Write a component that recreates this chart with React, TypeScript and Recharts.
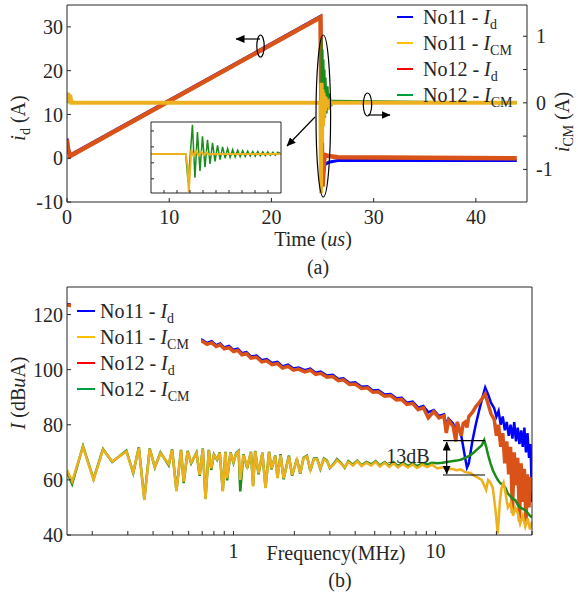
import { LineChart, Line, XAxis, YAxis, Legend } from 'recharts'

const FONT = "'Liberation Serif', 'DejaVu Serif', 'Times New Roman', serif"
const INK = '#262626'

// ---- (a) time domain, left axis: i_d (A) ----
const idTime = [0, 0.1, 0.3, 24.8, 24.9, 25.0, 25.2, 25.6, 26.5, 44]
const idNo11 = [4.5, 2.4, 0.7, 32.4, 10, -4.5, -1.5, -0.9, -0.5, -0.5]
const idNo12 = [4.2, 2.2, 0.5, 32.2, 8, -6.5, 0.8, 0.5, 0.2, 0.0]

// right axis: i_CM (A)
const cmTime = [0, 0.1, 0.2, 0.3, 0.45, 24.8, 24.85, 24.9, 24.95, 25.0, 25.05, 25.1, 25.15, 25.2, 25.25, 25.3, 25.4, 25.5, 25.6, 25.7, 25.85, 26.0, 44]
const cmNo11 = [0, 0.15, 0.05, 0.12, 0, 0, -1.36, 0.3, -0.6, 0.2, -0.35, 0.15, -0.2, 0.1, -0.12, 0.08, -0.05, 0.04, -0.02, 0.02, -0.01, 0, 0]
const cmNo12 = [0, 0.1, 0.03, 0.08, 0, 0, -0.9, 0.97, -0.45, 0.8, -0.35, 0.65, -0.28, 0.5, -0.22, 0.38, -0.16, 0.25, -0.1, 0.14, -0.05, 0.03, 0]

// inset (zoom of the turn-off ringing)
const insetTimeG = [24.5, 24.9, 24.929, 24.978, 25.007, 25.036, 25.065, 25.094, 25.123, 25.152, 25.181, 25.21, 25.239, 25.268, 25.297, 25.326, 25.355, 25.384, 25.413, 25.442, 25.471, 25.5, 25.529, 25.558, 25.587, 25.616, 25.645, 25.674, 25.703, 25.732, 25.761, 25.79, 25.819, 25.848, 25.877, 25.906, 25.935, 25.964, 26.0]
const insetNo12 = [0, 0, -0.81, 0.82, -0.67, 0.62, -0.48, 0.5, -0.37, 0.4, -0.28, 0.31, -0.21, 0.24, -0.16, 0.2, -0.12, 0.15, -0.1, 0.12, -0.08, 0.1, -0.08, 0.09, -0.07, 0.08, -0.06, 0.07, -0.06, 0.07, -0.05, 0.06, -0.05, 0.06, -0.04, 0.05, -0.04, 0.05, 0]
const insetTimeY = [24.5, 24.9, 24.92, 24.936, 24.95, 24.965, 24.99, 25.02, 25.05, 25.08, 25.11, 25.14, 25.17, 25.2, 26.0]
const insetNo11 = [0, 0, -0.3, -1.07, -0.5, 0.12, -0.06, 0.08, -0.04, 0.06, -0.03, 0.04, -0.02, 0, 0]

// ---- (b) spectra, I (dBuA) vs MHz ----
const freqId = [0.15, 0.2, 0.3, 0.45, 0.6, 0.7, 0.74, 0.78, 0.82, 0.86,
  0.9, 0.95, 1.0, 1.05, 1.1, 1.16, 1.22, 1.3, 1.38, 1.46,
  1.55, 1.65, 1.75, 1.86, 1.98, 2.1, 2.25, 2.4, 2.55, 2.7,
  2.9, 3.1, 3.3, 3.5, 3.75, 4.0, 4.3, 4.6, 4.9, 5.2,
  5.6, 6.0, 6.4, 6.8, 7.2, 7.7, 8.2, 8.7, 9.2, 9.8,
  10.4, 11.0, 11.3, 11.6, 12.2, 12.6, 12.8, 13.4, 13.7, 14.0,
  14.3, 14.6, 15.2, 15.8, 16.4, 17.0, 17.6, 18.2, 18.8, 19.5,
  20.0, 20.5, 21.0, 21.5, 22.0, 22.5, 23.0, 23.5, 24.0, 24.5,
  25.0, 25.5, 26.0, 26.5, 27.0, 27.5, 28.0, 28.5, 29.0, 29.5,
  30.0]
const specIdNo11 = [123.8, 122.3, 119.3, 115.3, 112.3, 110.8, 109.7, 110.3, 108.9, 109.5,
  108.1, 108.6, 107.2, 107.6, 106, 106.4, 104.8, 105.1, 103.4, 103.8,
  102.4, 102.8, 101.2, 101.8, 100.4, 100.8, 99.8, 100.4, 98.9, 99.3,
  97.9, 98.1, 96.6, 96.9, 95.2, 95.4, 93.8, 94, 92.4, 92.6,
  91, 91.2, 89.6, 89.8, 88, 88.4, 86.2, 86.8, 84.5, 85.4,
  83.2, 83.8, 80, 82.2, 80.5, 78, 81, 76, 72, 68,
  64.5, 66, 74, 80, 85, 89.5, 93.5, 91, 88, 86,
  83, 85, 80, 83, 78, 81, 76, 80, 75, 81,
  74, 79, 73, 78, 72, 79, 70, 77, 68, 73,
  52]
const specIdNo12 = [123.5, 122, 119, 115, 112, 110.3, 109.2, 109.8, 108.4, 109,
  107.6, 108, 106.6, 107, 105.4, 105.8, 104.2, 104.5, 102.8, 103.2,
  101.8, 102.2, 100.6, 101.2, 99.8, 100.2, 99.2, 99.8, 98.3, 98.7,
  97.3, 97.5, 96, 96.3, 94.6, 94.8, 93.2, 93.4, 91.8, 92,
  90.4, 90.6, 89, 89.2, 87.4, 87.8, 85.5, 86.2, 82.5, 84.8,
  82.5, 83.2, 77, 81.6, 79.5, 74, 81, 76, 80.5, 81,
  79, 83, 84.5, 86.5, 88, 89.5, 91.2, 87.5, 84, 82,
  76, 80, 72, 77, 66, 74, 62, 72, 48, 70,
  58, 68, 45, 66, 52, 64, 44, 62, 50, 61,
  56]

const freqCm = [0.15, 0.159, 0.18, 0.203, 0.226, 0.251, 0.295, 0.319, 0.34, 0.362,
  0.385, 0.408, 0.435, 0.478, 0.497, 0.522, 0.55, 0.567, 0.593, 0.617,
  0.656, 0.68, 0.705, 0.727, 0.755, 0.776, 0.8, 0.83, 0.855, 0.885,
  0.912, 0.93, 0.966, 1.0, 1.03, 1.06, 1.08, 1.12, 1.17, 1.22,
  1.25, 1.28, 1.33, 1.39, 1.44, 1.5, 1.54, 1.61, 1.65, 1.71,
  1.77, 1.82, 1.88, 1.95, 2.06, 2.14, 2.22, 2.31, 2.4, 2.5,
  2.59, 2.69, 2.8, 2.9, 3.0, 3.13, 3.25, 3.39, 3.55, 3.7,
  3.9, 4.1, 4.3, 4.55, 4.8, 5.05, 5.3, 5.6, 5.9, 6.2,
  6.5, 6.9, 7.3, 7.7, 8.1, 8.6, 9.1, 9.6, 10.2, 10.8,
  11.4, 12.0, 12.7, 13.3, 14.0, 14.9, 15.5, 16.0, 16.9, 17.4,
  17.8, 18.2, 18.7, 19.2, 19.8, 20.3, 20.8, 21.2, 21.7, 22.2,
  22.8, 23.5, 24.2, 24.8, 25.5, 26.2, 27.0, 27.8, 28.6, 29.3,
  30.0]
const specCmNo11 = [63.6, 59.5, 72, 60, 71, 66.7, 70.3, 62.7, 71.6, 52.7,
  71.2, 64.7, 69.7, 65.7, 70.9, 55.8, 70.7, 59.4, 70.3, 66.3,
  69.7, 61.8, 71.2, 53, 70.7, 64.2, 69, 67.5, 69.8, 55.8,
  70, 60.6, 69.8, 66.5, 69.5, 70.3, 60, 69, 64.8, 70,
  57.6, 70.3, 62.4, 69.7, 57, 70, 64.2, 68.5, 60.6, 69,
  60.6, 64, 68.5, 61.8, 67.3, 62.4, 67.8, 68.5, 63.6, 67.5,
  67.5, 64.2, 67.5, 66.7, 64.5, 65.5, 67.2, 66, 64.6, 66.5,
  65.2, 66.8, 65, 66.2, 65.2, 66.5, 64.8, 66.2, 64.7, 66,
  64.5, 65.8, 64.5, 65.6, 64.3, 65.5, 64.6, 65.5, 64.2, 64.6,
  63.8, 64, 63.5, 63.8, 62.8, 62.5, 61.5, 61, 60, 58,
  56.4, 60, 59, 57, 49, 40.5, 52, 57, 59, 55,
  50, 51.6, 47, 50, 48, 44, 47, 43, 46, 42,
  45]
const specCmNo12 = [63, 58.5, 72.3, 60.3, 71.2, 66.5, 70.6, 62.5, 71.8, 53,
  71.4, 64.5, 69.9, 65.3, 71.1, 56.2, 70.9, 58.8, 70.5, 66,
  69.9, 61.5, 71.4, 53.3, 70.9, 63.6, 69.2, 67.3, 70, 56,
  70.2, 59.8, 70, 66.2, 69.7, 70.5, 55.8, 69.3, 64.3, 70.2,
  57.8, 70.5, 62, 69.9, 57.3, 70.2, 63.8, 68.8, 60.8, 69.3,
  60.2, 64.3, 68.8, 61.5, 67.6, 62.2, 68, 68.8, 63.3, 67.8,
  67.8, 64, 67.8, 67, 64.3, 65.8, 67.5, 66.3, 64.4, 66.8,
  65.5, 67, 65.3, 66.5, 65.6, 66.8, 65.2, 66.5, 65.1, 66.4,
  65, 66.2, 65, 66, 65, 66, 65.6, 66.2, 66, 66.2,
  66.5, 66.8, 67, 67.3, 68, 69, 70, 71, 72.5, 74.5,
  72, 69, 66, 63.5, 61.5, 60, 59, 58.5, 58, 57,
  55, 54, 53, 52.7, 51, 50, 49.5, 49, 48, 47,
  46.5]

const timeTicks = [0, 10, 20, 30, 40]
const idTicks = [-10, 0, 10, 20, 30]
const cmTicks = [-1, -0.5, 0, 0.5, 1]
const freqTicks = [0.2, 0.3, 0.4, 0.5, 0.6, 0.7, 0.8, 0.9, 1, 2, 3, 4, 5, 6, 7, 8, 9, 10, 20, 30]
const levelTicks = [40, 60, 80, 100, 120]
const insetTimeTicks = [24.65, 24.8, 24.95, 25.1, 25.25, 25.4, 25.55, 25.7, 25.85]
const insetLevelTicks = [-0.7, -0.25, 0.2, 0.65]

const legendNames = ['No11 - ', 'No11 - ', 'No12 - ', 'No12 - ']
const legendSubs = ['d', 'CM', 'd', 'CM']
const legendColors = ['#0000ff', '#ffc000', '#ff0000', '#00a040']

const C_BLUE = '#0000ff'
const C_RED = '#d95319'
const C_YEL = '#edb120'
const C_GRN = '#1a8c1a'

const zip = (xs: number[], ys: number[]) => xs.map((x, i) => ({ x, y: ys[i] }))
const tickStyle = { fontSize: 20, fill: INK, fontFamily: FONT }
const blank = () => ''

function LegendBox({ lineW, gap, pad, bg }: { lineW: number; gap: number; pad: string; bg: string }) {
  return (
    <div style={{ fontFamily: FONT, fontSize: 20, color: INK, background: bg, padding: pad }}>
      {legendNames.map((n, i) => (
        <div key={i} style={{ display: 'flex', alignItems: 'center', height: 26, whiteSpace: 'nowrap' }}>
          <span style={{ display: 'inline-block', width: lineW, height: 2.5, background: legendColors[i], marginRight: gap }} />
          <span>
            {n}
            <i>I</i>
            <span style={{ fontSize: 14, position: 'relative', top: 5 }}>{legendSubs[i]}</span>
          </span>
        </div>
      ))}
    </div>
  )
}

function TimeChart() {
  return (
    <LineChart width={578} height={232} margin={{ top: 4, right: 0, bottom: 0, left: 0 }}>
      <XAxis dataKey="x" type="number" domain={[0, 45]} ticks={timeTicks} interval={0} allowDataOverflow
        height={30} tickSize={-4} tickMargin={12} stroke={INK} tick={tickStyle} />
      <XAxis xAxisId="top" orientation="top" type="number" domain={[0, 45]} ticks={timeTicks} interval={0}
        height={1} tickSize={-4} tickFormatter={blank} stroke={INK} />
      <YAxis yAxisId="left" type="number" domain={[-10, 35]} ticks={idTicks} interval={0} allowDataOverflow
        width={67} tickSize={-4} tickMargin={8} stroke={INK} tick={tickStyle} />
      <YAxis yAxisId="right" orientation="right" type="number" domain={[-1.49, 1.47]} ticks={cmTicks} interval={0}
        allowDataOverflow width={51} tickSize={-4} tickMargin={13} stroke={INK} tick={tickStyle}
        tickFormatter={(v: number) => (Number.isInteger(v) ? String(v) : '')} />
      <Line data={zip(idTime, idNo11)} dataKey="y" yAxisId="left" stroke={C_BLUE} strokeWidth={3} dot={false} isAnimationActive={false} />
      <Line data={zip(idTime, idNo12)} dataKey="y" yAxisId="left" stroke={C_RED} strokeWidth={4.5} dot={false} isAnimationActive={false} />
      <Line data={zip(cmTime, cmNo12)} dataKey="y" yAxisId="right" stroke={C_GRN} strokeWidth={2} dot={false} isAnimationActive={false} />
      <Line data={zip(cmTime, cmNo11)} dataKey="y" yAxisId="right" stroke={C_YEL} strokeWidth={4} dot={false} isAnimationActive={false} />
      <Legend layout="vertical" align="center" verticalAlign="middle"
        wrapperStyle={{ left: 395, top: 4, width: 140 }}
        content={() => <LegendBox lineW={16} gap={10} pad="0 0 0 2px" bg="transparent" />} />
    </LineChart>
  )
}

function InsetChart() {
  return (
    <LineChart width={132} height={73} margin={{ top: 0, right: 0, bottom: 0, left: 0 }}>
      <XAxis dataKey="x" type="number" domain={[24.5, 26]} ticks={insetTimeTicks} interval={0} allowDataOverflow
        height={1} tickSize={-3} tickFormatter={blank} stroke={INK} />
      <XAxis xAxisId="top" orientation="top" type="number" domain={[24.5, 26]} ticks={insetTimeTicks} interval={0}
        height={1} tickSize={-3} tickFormatter={blank} stroke={INK} />
      <YAxis type="number" domain={[-1.1, 0.9]} ticks={insetLevelTicks} interval={0} allowDataOverflow
        width={1} tickSize={-3} tickFormatter={blank} stroke={INK} />
      <YAxis yAxisId="r" orientation="right" type="number" domain={[-1.1, 0.9]} ticks={insetLevelTicks} interval={0}
        width={1} tickSize={-3} tickFormatter={blank} stroke={INK} />
      <Line data={zip(insetTimeG, insetNo12)} dataKey="y" stroke={C_GRN} strokeWidth={1.5} dot={false} isAnimationActive={false} />
      <Line data={zip(insetTimeY, insetNo11)} dataKey="y" stroke={C_YEL} strokeWidth={2} dot={false} isAnimationActive={false} />
    </LineChart>
  )
}

function SpectrumChart() {
  return (
    <LineChart width={578} height={283} margin={{ top: 4, right: 0, bottom: 0, left: 0 }}>
      <XAxis dataKey="x" type="number" scale="log" domain={[0.15, 30]} ticks={freqTicks} interval={0} allowDataOverflow
        height={30} tickSize={-4} tickMargin={13} stroke={INK} tick={tickStyle}
        tickFormatter={(v: number) => (v === 1 || v === 10 ? String(v) : '')} />
      <XAxis xAxisId="top" orientation="top" type="number" scale="log" domain={[0.15, 30]} ticks={freqTicks} interval={0}
        allowDataOverflow height={1} tickSize={-4} tickFormatter={blank} stroke={INK} />
      <YAxis type="number" domain={[40, 130]} ticks={levelTicks} interval={0} allowDataOverflow
        width={67} tickSize={-4} tickMargin={8} stroke={INK} tick={tickStyle} />
      <YAxis yAxisId="r" orientation="right" type="number" domain={[40, 130]} ticks={levelTicks} interval={0}
        width={46} tickSize={-4} tickFormatter={blank} stroke={INK} />
      <Line data={zip(freqId, specIdNo11)} dataKey="y" stroke={C_BLUE} strokeWidth={2.5} dot={false} isAnimationActive={false} />
      <Line data={zip(freqId, specIdNo12)} dataKey="y" stroke={C_RED} strokeWidth={3.5} dot={false} isAnimationActive={false} />
      <Line data={zip(freqCm, specCmNo12)} dataKey="y" stroke={C_GRN} strokeWidth={2.5} dot={false} isAnimationActive={false} />
      <Line data={zip(freqCm, specCmNo11)} dataKey="y" stroke={C_YEL} strokeWidth={2.5} dot={false} isAnimationActive={false} />
      <Legend layout="vertical" align="center" verticalAlign="middle"
        wrapperStyle={{ left: 71, top: 12, width: 130 }}
        content={() => <LegendBox lineW={18} gap={5} pad="4px 0 6px 6px" bg="#fff" />} />
    </LineChart>
  )
}

function Overlay() {
  return (
    <svg width={578} height={599} style={{ position: 'absolute', left: 0, top: 0, pointerEvents: 'none' }}
      fontFamily={FONT} fill={INK}>
      <defs>
        <marker id="ah" markerWidth="9" markerHeight="8" refX="8.5" refY="4" orient="auto-start-reverse" markerUnits="userSpaceOnUse">
          <path d="M0,0 L9,4 L0,8 z" fill="#000" />
        </marker>
      </defs>
      {/* annotations (a) */}
      <g stroke="#000" strokeWidth={1.2} fill="none">
        <ellipse cx={260.5} cy={46} rx={3.7} ry={11} />
        <line x1={260} y1={39} x2={236} y2={39} markerEnd="url(#ah)" />
        <ellipse cx={367.5} cy={104.5} rx={4.2} ry={11.5} />
        <line x1={368} y1={115} x2={390} y2={115} markerEnd="url(#ah)" />
        <ellipse cx={323.3} cy={116} rx={7.3} ry={81} />
        <line x1={315} y1={117} x2={287} y2={146} markerEnd="url(#ah)" />
      </g>
      {/* annotations (b) */}
      <g stroke="#000" strokeWidth={1.2} fill="none">
        <line x1={443} y1={440.7} x2={485} y2={440.7} />
        <line x1={443} y1={475} x2={485} y2={475} />
        <line x1={446.7} y1={442} x2={446.7} y2={474} markerStart="url(#ah)" markerEnd="url(#ah)" />
      </g>
      <text x={408} y={463} fontSize={20} textAnchor="middle">13dB</text>

      {/* axis labels (a) */}
      <text transform="translate(25,118) rotate(-90)" fontSize={20} textAnchor="middle">
        <tspan fontStyle="italic">i</tspan>
        <tspan fontSize={14} dy={5}>d</tspan>
        <tspan dy={-5}> (A)</tspan>
      </text>
      <text transform="translate(569,122) rotate(-90)" fontSize={20} textAnchor="middle">
        <tspan fontStyle="italic">i</tspan>
        <tspan fontSize={14} dy={4}>CM</tspan>
        <tspan dy={-4}> (A)</tspan>
      </text>
      <text x={313} y={246} fontSize={20} textAnchor="middle">
        Time (<tspan fontStyle="italic">us</tspan>)
      </text>
      <text x={318} y={274} fontSize={20} textAnchor="middle">(a)</text>

      {/* axis labels (b) */}
      <text transform="translate(25,393) rotate(-90)" fontSize={20} textAnchor="middle">
        <tspan fontStyle="italic">I</tspan> (dB<tspan fontStyle="italic">u</tspan>A)
      </text>
      <text x={336} y={560} fontSize={20} textAnchor="middle">Frequency(MHz)</text>
      <text x={340} y={587} fontSize={20} textAnchor="middle">(b)</text>
    </svg>
  )
}

export default function App() {
  return (
    <div style={{ position: 'absolute', left: 0, top: 0, width: 578, height: 599, background: '#fff', overflow: 'hidden' }}>
      <div style={{ position: 'absolute', left: 0, top: 0 }}>
        <TimeChart />
      </div>
      <div style={{ position: 'absolute', left: 150, top: 121, width: 132, height: 73, background: '#fff' }}>
        <InsetChart />
      </div>
      <div style={{ position: 'absolute', left: 0, top: 282 }}>
        <SpectrumChart />
      </div>
      <Overlay />
    </div>
  )
}
